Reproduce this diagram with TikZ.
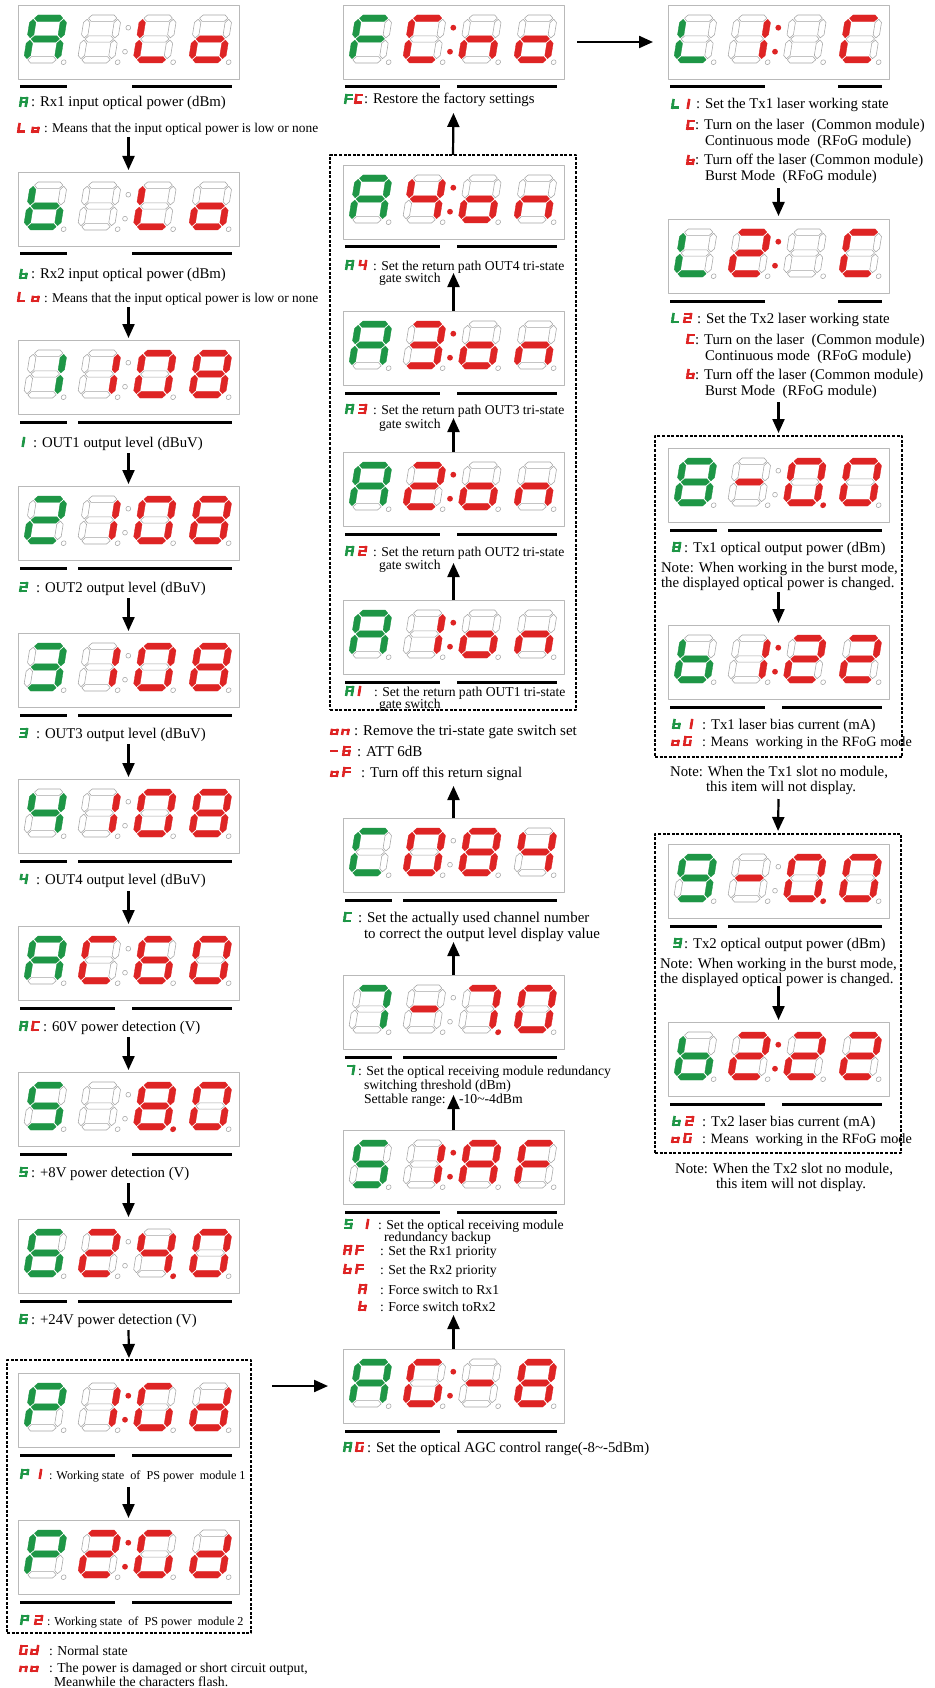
\documentclass[tikz,border=0pt]{standalone}
\usepackage{fontspec}
\setmainfont{Liberation Serif}
\usetikzlibrary{arrows.meta}
\definecolor{segg}{RGB}{30,150,70}
\definecolor{segr}{RGB}{222,36,36}
\definecolor{offg}{RGB}{165,165,165}
\definecolor{boxg}{RGB}{185,185,185}
% segment codes abcdefg
\def\sgA{1110111}\def\sgb{0011111}\def\sgL{0001110}\def\sgo{0011101}
\def\sgn{0010101}\def\sgC{1001110}\def\sgF{1000111}\def\sgP{1100111}
\def\sgG{1011110}\def\sgd{0111101}\def\sgm{0000001}\def\sgX{0000000}
\def\sgO{1111110}\def\sgI{0110000}\def\sgII{1101101}\def\sgIII{1111001}
\def\sgIV{0110011}\def\sgV{1011011}\def\sgVI{1011111}\def\sgVII{1110000}
\def\sgVIII{1111111}\def\sgIX{1111011}
\def\qW{37}\def\qH{48}\def\qT{6.4}\def\qG{1.1}\def\qS{0.16}\def\qR{2.4}
\def\qparse#1#2#3#4#5#6#7#8\relax{\def\qfa{#1}\def\qfb{#2}\def\qfc{#3}\def\qfd{#4}\def\qfe{#5}\def\qff{#6}\def\qfg{#7}\def\qfp{#8}}
\newcommand\hseg[2]{\path[#2] ({\qul+\qG},{#1}) -- ({\qul+\qG+\qht},{#1+\qht}) -- ({\qur-\qG-\qht},{#1+\qht}) -- ({\qur-\qG},{#1}) -- ({\qur-\qG-\qht},{#1-\qht}) -- ({\qul+\qG+\qht},{#1-\qht}) -- cycle;}
\newcommand\vseg[4]{\path[#4] ({#1},{#2+\qG}) -- ({#1+\qht},{#2+\qG+\qht}) -- ({#1+\qht},{#3-\qG-\qht}) -- ({#1},{#3-\qG}) -- ({#1-\qht},{#3-\qG-\qht}) -- ({#1-\qht},{#2+\qG+\qht}) -- cycle;}
\newcommand\segh[2]{\ifnum#1=1 \hseg{#2}{litseg}\else\hseg{#2}{offseg}\fi}
\newcommand\segv[4]{\ifnum#1=1 \vseg{#2}{#3}{#4}{litseg}\else\vseg{#2}{#3}{#4}{offseg}\fi}
\newcommand\sevdig[4]{%
 \begin{scope}[shift={({#1},{#2})},x=1pt,y=1pt,xslant=\qS]
 \colorlet{segcol}{#4}%
 \expandafter\qparse#3\relax
 \pgfmathsetmacro\qht{\qT/2}%
 \pgfmathsetmacro\qul{\qT/2}%
 \pgfmathsetmacro\qur{\qW-\qT/2}%
 \pgfmathsetmacro\qvb{\qT/2}%
 \pgfmathsetmacro\qvm{\qH/2}%
 \pgfmathsetmacro\qvt{\qH-\qT/2}%
 \segh{\qfa}{\qvt}%
 \segv{\qfb}{\qur}{\qvm}{\qvt}%
 \segv{\qfc}{\qur}{\qvb}{\qvm}%
 \segh{\qfd}{\qvb}%
 \segv{\qfe}{\qul}{\qvb}{\qvm}%
 \segv{\qff}{\qul}{\qvm}{\qvt}%
 \segh{\qfg}{\qvm}%
 \ifnum\qfp=1 \fill[segcol] ({\qW+3.5},0.8) circle[radius=2.9];
 \else \draw[offseg] ({\qW+3.5},0.8) circle[radius=\qR]; \fi
 \end{scope}}
% small solid glyphs used as labels in the texts
\newcommand\lbl[4]{%
 \begin{scope}[shift={({#1+1.25},{#2+5-1.25})},x=1pt,y=1pt,xslant=0.16]
 \colorlet{segcol}{#4}%
 \expandafter\qparse#3\relax
 \ifnum\qfa=1 \draw[lseg] (0,7.6) -- (5.6,7.6);\fi
 \ifnum\qfb=1 \draw[lseg] (5.6,3.8) -- (5.6,7.6);\fi
 \ifnum\qfc=1 \draw[lseg] (5.6,0) -- (5.6,3.8);\fi
 \ifnum\qfd=1 \draw[lseg] (0,0) -- (5.6,0);\fi
 \ifnum\qfe=1 \draw[lseg] (0,0) -- (0,3.8);\fi
 \ifnum\qff=1 \draw[lseg] (0,3.8) -- (0,7.6);\fi
 \ifnum\qfg=1 \draw[lseg] (0,3.8) -- (5.6,3.8);\fi
 \end{scope}}
\tikzset{
 litseg/.style={fill=segcol,draw=segcol,line width=0.3pt},
 offseg/.style={draw=offg,line width=0.55pt,fill=white},
 lseg/.style={draw=segcol,line width=2.5pt,line cap=rect},
 dispbox/.style={draw=boxg,line width=0.8pt,minimum width=221pt,minimum height=74pt,inner sep=0pt,outer sep=0pt},
 bar/.style={line width=3pt},
 arr/.style={line width=2.2pt,-{Triangle[length=14pt,width=12pt]}},
 dbox/.style={draw,line width=1.7pt,dash pattern=on 3pt off 1.6pt,inner sep=0pt,outer sep=0pt},
 lab/.style={anchor=base west,inner sep=0pt,outer sep=0pt},
 clab/.style={anchor=base,inner sep=0pt,outer sep=0pt},
}
\newcommand\display[8]{%
 \node[dispbox] (#1) at ({#2+110.5},{#3+37}) {};
 \sevdig{#2+5}{#3+58}{#4}{segg}%
 \sevdig{#2+59}{#3+58}{#5}{segr}%
 \sevdig{#2+114.5}{#3+58}{#6}{segr}%
 \sevdig{#2+170}{#3+58}{#7}{segr}%
 \ifnum#8=1
   \fill[segr] ({#2+110.3},{#3+22.7}) circle[radius=2.9] ({#2+107},{#3+46.7}) circle[radius=2.9];
 \else
   \draw[offseg] ({#2+110.3},{#3+22.7}) circle[radius=2.4] ({#2+107},{#3+46.7}) circle[radius=2.4];
 \fi}
\newcommand\bars[3]{\foreach \qa/\qb in {#3}{\draw[bar] ({#1+\qa},{#2+82}) -- ({#1+\qb},{#2+82});}}
\newcommand\txt[5]{\node[lab,font=\fontsize{#1}{#1}\selectfont] (#2) at ({#3},{#4+5}) {#5};}
\newcommand\ctxt[5]{\node[clab,font=\fontsize{#1}{#1}\selectfont] (#2) at ({#3},{#4+5}) {#5};}
\begin{document}
\begin{tikzpicture}[x=1pt,y=-1pt,line join=round]
\useasboundingbox (0,0) rectangle (934,1688);
\fill[white] (0,0) rectangle (934,1688);
% ---------- left column ----------
\display{dA}{18}{5}{\sgA0}{\sgX0}{\sgL0}{\sgo0}{0}\bars{18}{5}{2/49,114/214}
\display{dB}{18}{172}{\sgb0}{\sgX0}{\sgL0}{\sgo0}{0}\bars{18}{172}{2/49,114/214}
\display{d1}{18}{340}{\sgI0}{\sgI0}{\sgO0}{\sgVIII0}{0}\bars{18}{340}{2/49,60/214}
\display{d2}{18}{486}{\sgII0}{\sgI0}{\sgO0}{\sgVIII0}{0}\bars{18}{486}{2/49,60/214}
\display{d3}{18}{633}{\sgIII0}{\sgI0}{\sgO0}{\sgVIII0}{0}\bars{18}{633}{2/49,60/214}
\display{d4}{18}{779}{\sgIV0}{\sgI0}{\sgO0}{\sgVIII0}{0}\bars{18}{779}{2/49,60/214}
\display{dAC}{18}{926}{\sgA0}{\sgC0}{\sgVI0}{\sgO0}{0}\bars{18}{926}{2/97,114/214}
\display{d5}{18}{1072}{\sgV0}{\sgX0}{\sgVIII1}{\sgO0}{0}\bars{18}{1072}{2/49,114/214}
\display{d6}{18}{1219}{\sgVI0}{\sgII0}{\sgIV1}{\sgO0}{0}\bars{18}{1219}{2/49,60/214}
\display{dP1}{18}{1373}{\sgP0}{\sgI0}{\sgG0}{\sgd0}{1}\bars{18}{1373}{2/97,114/214}
\display{dP2}{18}{1520}{\sgP0}{\sgII0}{\sgG0}{\sgd0}{1}\bars{18}{1520}{2/97,114/214}
% ---------- middle column ----------
\display{dFC}{343}{5}{\sgF0}{\sgC0}{\sgn0}{\sgo0}{1}\bars{343}{5}{2/97,114/214}
\display{dA4}{343}{165}{\sgA0}{\sgIV0}{\sgo0}{\sgn0}{1}\bars{343}{165}{2/97,114/214}
\display{dA3}{343}{311}{\sgA0}{\sgIII0}{\sgo0}{\sgn0}{1}\bars{343}{311}{2/97,114/214}
\display{dA2}{343}{452}{\sgA0}{\sgII0}{\sgo0}{\sgn0}{1}\bars{343}{452}{2/97,114/214}
\display{dA1}{343}{600}{\sgA0}{\sgI0}{\sgo0}{\sgn0}{1}\bars{343}{600}{2/97,114/214}
\display{dC}{343}{818}{\sgC0}{\sgO0}{\sgVIII0}{\sgIV0}{0}\bars{343}{818}{2/49,60/214}
\display{d7}{343}{975}{\sgVII0}{\sgm0}{\sgVII1}{\sgO0}{0}\bars{343}{975}{2/49,60/214}
\display{d51}{343}{1130}{\sgV0}{\sgI0}{\sgA0}{\sgF0}{1}\bars{343}{1130}{2/97,114/214}
\display{dAG}{343}{1349}{\sgA0}{\sgG0}{\sgm0}{\sgVIII0}{1}\bars{343}{1349}{2/97,114/214}
% ---------- right column ----------
\display{dL1}{668}{5}{\sgL0}{\sgI0}{\sgX0}{\sgC0}{1}\bars{668}{5}{2/97,170/214}
\display{dL2}{668}{219}{\sgL0}{\sgII0}{\sgX0}{\sgC0}{1}\bars{668}{219}{2/97,170/214}
\display{d8}{668}{448}{\sgVIII0}{\sgm0}{\sgO1}{\sgO0}{0}\bars{668}{448}{2/49,60/214}
\display{db1}{668}{625}{\sgb0}{\sgI0}{\sgII0}{\sgII0}{1}\bars{668}{625}{2/97,114/214}
\display{d9}{668}{844}{\sgIX0}{\sgm0}{\sgO1}{\sgO0}{0}\bars{668}{844}{2/49,60/214}
\display{db2}{668}{1022}{\sgb0}{\sgII0}{\sgII0}{\sgII0}{1}\bars{668}{1022}{2/97,114/214}
% ---------- left texts ----------
\lbl{19}{102}{\sgA0}{segg}\txt{14.8}{tA}{31}{102}{: Rx1 input optical power (dBm)}
\lbl{17}{128}{\sgL0}{segr}\lbl{31}{128}{\sgo0}{segr}\txt{13.4}{tAlo}{44}{128}{: Means that the input optical power is low or none}
\lbl{19}{274}{\sgb0}{segg}\txt{14.8}{tB}{31}{274}{: Rx2 input optical power (dBm)}
\lbl{17}{297}{\sgL0}{segr}\lbl{31}{297}{\sgo0}{segr}\txt{13.4}{tBlo}{44}{297}{: Means that the input optical power is low or none}
\lbl{16}{442}{\sgI0}{segg}\txt{14.8}{t1}{33}{442}{: OUT1 output level (dBuV)}
\lbl{19}{587}{\sgII0}{segg}\txt{14.8}{t2}{36}{587}{: OUT2 output level (dBuV)}
\lbl{19}{733}{\sgIII0}{segg}\txt{14.8}{t3}{36}{733}{: OUT3 output level (dBuV)}
\lbl{19}{879}{\sgIV0}{segg}\txt{14.8}{t4}{36}{879}{: OUT4 output level (dBuV)}
\lbl{19}{1026}{\sgA0}{segg}\lbl{31}{1026}{\sgC0}{segr}\txt{14.8}{tAC}{43}{1026}{: 60V power detection (V)}
\lbl{19}{1172}{\sgV0}{segg}\txt{14.8}{t5}{31}{1172}{: +8V power detection (V)}
\lbl{19}{1319}{\sgVI0}{segg}\txt{14.8}{t6}{31}{1319}{: +24V power detection (V)}
\lbl{20}{1474}{\sgP0}{segg}\lbl{33}{1474}{\sgI0}{segr}\txt{12.2}{tP1}{49}{1474}{: Working state~ of~ PS power~ module 1}
\lbl{20}{1620}{\sgP0}{segg}\lbl{34}{1620}{\sgII0}{segr}\txt{12.2}{tP2}{47}{1620}{: Working state~ of~ PS power~ module 2}
\lbl{19}{1650}{\sgG0}{segr}\lbl{30}{1650}{\sgd0}{segr}\txt{13.7}{tGd}{49}{1650}{: Normal state}
\lbl{19}{1667}{\sgn0}{segr}\lbl{30}{1667}{\sgo0}{segr}\txt{13.7}{tno}{49}{1667}{: The power is damaged or short circuit output,}
\txt{13.7}{tnob}{54}{1681}{Meanwhile the characters flash.}
% ---------- middle texts ----------
\lbl{344}{99}{\sgF0}{segg}\lbl{354}{99}{\sgC0}{segr}\txt{14.8}{tFC}{364}{99}{: Restore the factory settings}
\lbl{345}{265}{\sgA0}{segg}\lbl{358}{265}{\sgIV0}{segr}\txt{13.6}{tA4}{373}{265}{: Set the return path OUT4 tri-state}
\txt{13.6}{tA4b}{379}{278}{gate switch}
\lbl{345}{409}{\sgA0}{segg}\lbl{358}{409}{\sgIII0}{segr}\txt{13.6}{tA3}{373}{409}{: Set the return path OUT3 tri-state}
\txt{13.6}{tA3b}{379}{423}{gate switch}
\lbl{345}{551}{\sgA0}{segg}\lbl{358}{551}{\sgII0}{segr}\txt{13.6}{tA2}{373}{551}{: Set the return path OUT2 tri-state}
\txt{13.6}{tA2b}{379}{564}{gate switch}
\lbl{345}{691}{\sgA0}{segg}\lbl{352}{691}{\sgI0}{segr}\txt{13.6}{tA1}{374}{691}{: Set the return path OUT1 tri-state}
\txt{13.6}{tA1b}{379}{703}{gate switch}
\lbl{330}{730}{\sgo0}{segr}\lbl{341}{730}{\sgn0}{segr}\txt{15}{ton}{354}{730}{: Remove the tri-state gate switch set}
\lbl{329}{751}{\sgm0}{segr}\lbl{342}{751}{\sgVI0}{segr}\txt{15}{tm6}{357}{751}{: ATT 6dB}
\lbl{330}{772}{\sgo0}{segr}\lbl{342}{772}{\sgF0}{segr}\txt{14.8}{toF}{361}{772}{: Turn off this return signal}
\lbl{343}{917}{\sgC0}{segg}\txt{14.9}{tC}{358}{917}{: Set the actually used channel number}
\txt{14.9}{tCb}{364}{933}{to correct the output level display value}
\lbl{346}{1070}{\sgVII0}{segg}\txt{13.7}{t7}{358}{1070}{: Set the optical receiving module redundancy}
\txt{13.7}{t7b}{364}{1084}{switching threshold (dBm)}
\txt{13.7}{t7c}{364}{1098}{Settable range:}
\txt{13.7}{t7d}{459}{1098}{-10\textasciitilde{}-4dBm}
\lbl{344}{1224}{\sgV0}{segg}\lbl{360}{1224}{\sgI0}{segr}\txt{13.7}{t51}{378}{1224}{: Set the optical receiving module}
\txt{13.7}{t51b}{384}{1236}{redundancy backup}
\lbl{343}{1250}{\sgA0}{segr}\lbl{355}{1250}{\sgF0}{segr}\txt{13.7}{tAF}{380}{1250}{: Set the Rx1 priority}
\lbl{343}{1269}{\sgb0}{segr}\lbl{355}{1269}{\sgF0}{segr}\txt{13.7}{tbF}{380}{1269}{: Set the Rx2 priority}
\lbl{358}{1289}{\sgA0}{segr}\txt{13.7}{tAx}{380}{1289}{: Force switch to Rx1}
\lbl{358}{1306}{\sgb0}{segr}\txt{13.7}{tbx}{380}{1306}{: Force switch toRx2}
\lbl{343}{1447}{\sgA0}{segg}\lbl{355}{1447}{\sgG0}{segr}\txt{14.8}{tAG}{367}{1447}{: Set the optical AGC control range(-8\textasciitilde{}-5dBm)}
% ---------- right texts ----------
\lbl{671}{104}{\sgL0}{segg}\lbl{681}{104}{\sgI0}{segr}\txt{14.8}{tL1}{696}{104}{: Set the Tx1 laser working state}
\lbl{686}{125}{\sgC0}{segr}\txt{14.8}{tL1c}{695}{125}{: Turn on the laser~ (Common module)}
\txt{14.8}{tL1d}{705}{141}{Continuous mode~ (RFoG module)}
\lbl{686}{160}{\sgb0}{segr}\txt{14.8}{tL1e}{695}{160}{: Turn off the laser (Common module)}
\txt{14.8}{tL1f}{705}{176}{Burst Mode~ (RFoG module)}
\lbl{671}{318}{\sgL0}{segg}\lbl{683}{318}{\sgII0}{segr}\txt{14.8}{tL2}{697}{318}{: Set the Tx2 laser working state}
\lbl{686}{339}{\sgC0}{segr}\txt{14.8}{tL2c}{695}{339}{: Turn on the laser~ (Common module)}
\txt{14.8}{tL2d}{705}{355}{Continuous mode~ (RFoG module)}
\lbl{686}{374}{\sgb0}{segr}\txt{14.8}{tL2e}{695}{374}{: Turn off the laser (Common module)}
\txt{14.8}{tL2f}{705}{390}{Burst Mode~ (RFoG module)}
\lbl{672}{547}{\sgVIII0}{segg}\txt{14.8}{t8}{684}{547}{: Tx1 optical output power (dBm)}
\txt{14.8}{t8b}{661}{567}{Note: When working in the burst mode,}
\txt{14.8}{t8c}{661}{582}{the displayed optical power is changed.}
\lbl{672}{724}{\sgb0}{segg}\lbl{684}{724}{\sgI0}{segr}\txt{14.8}{tb1}{702}{724}{: Tx1 laser bias current (mA)}
\lbl{671}{741}{\sgo0}{segr}\lbl{683}{741}{\sgG0}{segr}\txt{14.2}{tb1b}{702}{741}{: Means~ working in the RFoG mode}
\ctxt{14.8}{tn1}{779}{771}{Note: When the Tx1 slot no module,}
\ctxt{14.8}{tn1b}{781}{786}{this item will not display.}
\lbl{673}{943}{\sgIX0}{segg}\txt{14.8}{t9}{684}{943}{: Tx2 optical output power (dBm)}
\txt{14.8}{t9b}{660}{963}{Note: When working in the burst mode,}
\txt{14.8}{t9c}{660}{978}{the displayed optical power is changed.}
\lbl{672}{1121}{\sgb0}{segg}\lbl{685}{1121}{\sgII0}{segr}\txt{14.8}{tb2}{702}{1121}{: Tx2 laser bias current (mA)}
\lbl{671}{1138}{\sgo0}{segr}\lbl{683}{1138}{\sgG0}{segr}\txt{14.2}{tb2b}{702}{1138}{: Means~ working in the RFoG mode}
\ctxt{14.8}{tn2}{784}{1168}{Note: When the Tx2 slot no module,}
\ctxt{14.8}{tn2b}{791}{1183}{this item will not display.}
% ---------- dashed groups ----------
\node[dbox,minimum width=244pt,minimum height=273pt] (gP) at (129,1496.5) {};
\node[dbox,minimum width=246pt,minimum height=555pt] (gA) at (453,432.5) {};
\node[dbox,minimum width=247pt,minimum height=321pt] (gT1) at (778.5,596.5) {};
\node[dbox,minimum width=246pt,minimum height=319pt] (gT2) at (778,993.5) {};
% ---------- arrows ----------
\coordinate (aA) at (128.5,137);  \draw[arr,shorten >=2pt] (aA) -- (dB.north);
\coordinate (aB) at (128.5,307);  \draw[arr,shorten >=2pt] (aB) -- (d1.north);
\coordinate (a1) at (128.5,453);  \draw[arr,shorten >=2pt] (a1) -- (d2.north);
\coordinate (a2) at (128.5,598);  \draw[arr,shorten >=2pt] (a2) -- (d3.north);
\coordinate (a3) at (128.5,744);  \draw[arr,shorten >=2pt] (a3) -- (d4.north);
\coordinate (a4) at (128.5,891);  \draw[arr,shorten >=2pt] (a4) -- (dAC.north);
\coordinate (aAC) at (128.5,1037); \draw[arr,shorten >=2pt] (aAC) -- (d5.north);
\coordinate (a5) at (128.5,1183); \draw[arr,shorten >=2pt] (a5) -- (d6.north);
\coordinate (a6) at (128.5,1330); \draw[arr,shorten >=2pt] (a6) -- (gP.north);
\coordinate (aP1) at (128.5,1487); \draw[arr,shorten >=2pt] (aP1) -- (dP2.north);
\coordinate (hP) at (272,1386); \draw[arr,shorten >=15pt] (hP) -- (dAG.west);
\coordinate (uAG) at (453.5,1315); \draw[arr] (dAG.north) -- (uAG);
\coordinate (u51) at (453.5,1095); \draw[arr] (d51.north) -- (u51);
\coordinate (u7) at (453.5,942); \draw[arr] (d7.north) -- (u7);
\coordinate (uC) at (453.5,786); \draw[arr] (dC.north) -- (uC);
\coordinate (uA1) at (453.5,563); \draw[arr] (dA1.north) -- (uA1);
\coordinate (uA2) at (453.5,418); \draw[arr] (dA2.north) -- (uA2);
\coordinate (uA3) at (453.5,273); \draw[arr] (dA3.north) -- (uA3);
\coordinate (uA4) at (453.5,113); \draw[arr] (gA.north) -- (uA4);
\coordinate (hF) at (577,42); \draw[arr,shorten >=15pt] (hF) -- (dL1.west);
\coordinate (rL1) at (778.5,188); \draw[arr,shorten >=3pt] (rL1) -- (dL2.north);
\coordinate (rL2) at (778.5,402); \draw[arr,shorten >=3pt] (rL2) -- (gT1.north);
\coordinate (r8) at (778.5,592); \draw[arr,shorten >=2pt] (r8) -- (db1.north);
\coordinate (rN1) at (778.5,799); \draw[arr,shorten >=3pt] (rN1) -- (gT2.north);
\coordinate (r9) at (778.5,986); \draw[arr,shorten >=2pt] (r9) -- (db2.north);
\end{tikzpicture}
\end{document}
